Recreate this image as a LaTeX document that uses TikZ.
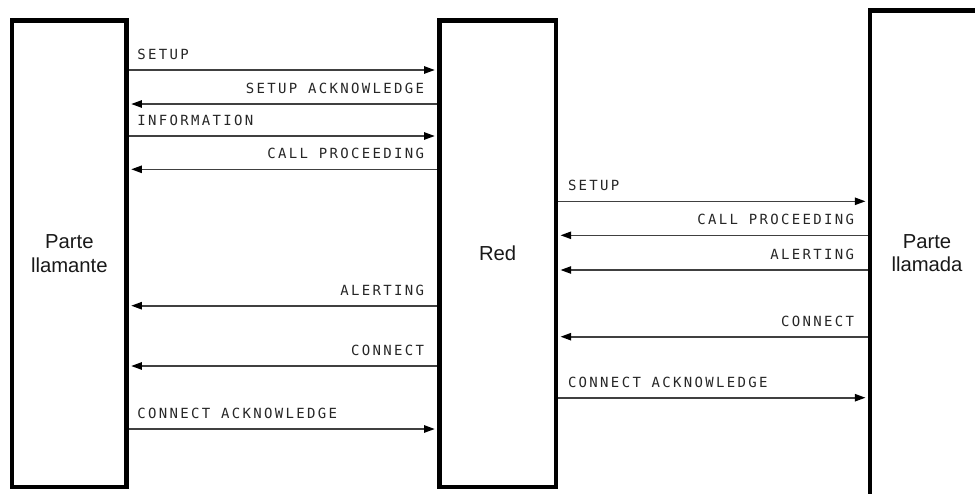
\documentclass[tikz,border=0pt]{standalone}
\usepackage{fontspec}
\setmainfont{Liberation Sans}
\newfontfamily\msgfont[LetterSpace=16.6]{DejaVu Sans Mono}
\usetikzlibrary{arrows.meta,fit}
\tikzset{
  box/.style={draw=black, line width=3.6pt, inner sep=0pt},
  msg/.style={draw=black!75, line width=1.2pt, -{Triangle[length=8pt,width=5.5pt,black]}, shorten >=1.6pt},
  lbl/.style={font=\msgfont\fontsize{10.5pt}{12pt}\selectfont, text=black!85, inner sep=0pt},
  big/.style={font=\fontsize{15.2pt}{17.6pt}\selectfont, align=center, inner sep=0pt, text=black!90}
}
% forward: y, from, to, label, coord name, xshift
\newcommand\sigfwd[6]{%
  \coordinate (#5) at (0,#1);
  \draw[msg] (#2 |- #5) -- (#3 |- #5)
    node[lbl, pos=0, anchor=base west, xshift=#6, yshift=7.9pt] (#5l) {#4};}
% backward: y, from, to, label, coord name, xshift
\newcommand\sigbwd[6]{%
  \coordinate (#5) at (0,#1);
  \draw[msg] (#2 |- #5) -- (#3 |- #5)
    node[lbl, pos=0, anchor=base east, xshift=#6, yshift=7.9pt] (#5l) {#4};}
\begin{document}
\begin{tikzpicture}[x=0.75pt,y=-0.75pt]
  \useasboundingbox (0,0) rectangle (975,493);
  % boxes
  \coordinate (a1) at (12,20.3);   \coordinate (a2) at (126.7,487);
  \coordinate (b1) at (439.3,20.3); \coordinate (b2) at (556,487);
  \coordinate (c1) at (870,10.3);  \coordinate (c2) at (1100,640);
  \node[box, fit=(a1)(a2)] (A) {};
  \node[box, fit=(b1)(b2)] (B) {};
  \node[box, fit=(c1)(c2)] (C) {};
  \node[big] (tA) at (A.center) {Parte\\llamante};
  \node[big] (tB) at (B.center) {Red};
  \node[big] (tC) at (927,253) {Parte\\llamada};
  % left section
  \sigfwd{70}{A.east}{B.west}{SETUP}{m1}{5.6pt}
  \sigbwd{104}{B.west}{A.east}{SETUP ACKNOWLEDGE}{m2}{-9pt}
  \sigfwd{136}{A.east}{B.west}{INFORMATION}{m3}{5.6pt}
  \sigbwd{169.3}{B.west}{A.east}{CALL PROCEEDING}{m4}{-9pt}
  \sigbwd{305.7}{B.west}{A.east}{ALERTING}{m5}{-9pt}
  \sigbwd{366}{B.west}{A.east}{CONNECT}{m6}{-9pt}
  \sigfwd{429}{A.east}{B.west}{CONNECT ACKNOWLEDGE}{m7}{5.6pt}
  % right section
  \sigfwd{201.3}{B.east}{C.west}{SETUP}{n1}{6.6pt}
  \sigbwd{235.3}{C.west}{B.east}{CALL PROCEEDING}{n2}{-9.5pt}
  \sigbwd{270}{C.west}{B.east}{ALERTING}{n3}{-9.5pt}
  \sigbwd{336.7}{C.west}{B.east}{CONNECT}{n4}{-9.5pt}
  \sigfwd{397.7}{B.east}{C.west}{CONNECT ACKNOWLEDGE}{n5}{6.6pt}
\end{tikzpicture}
\end{document}
